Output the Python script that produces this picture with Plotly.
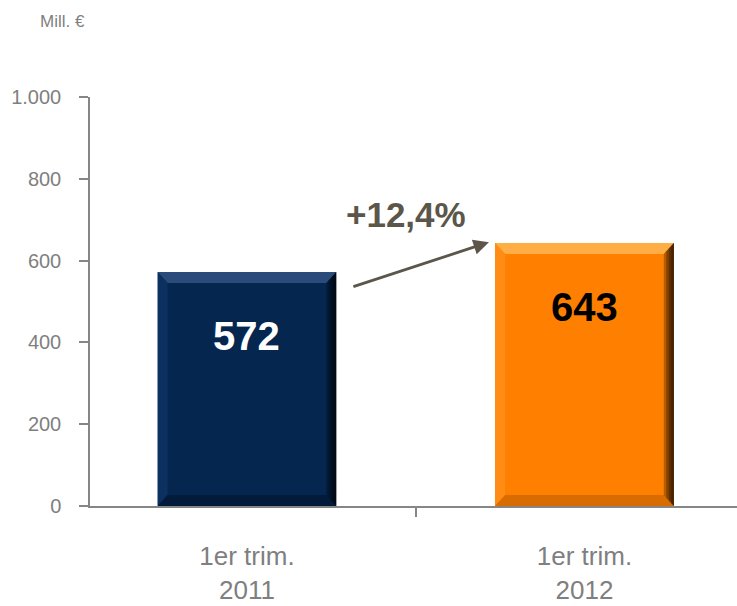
import plotly.graph_objects as go

# Revenue, million euro, first quarter
categories = ["1er trim.<br>2011", "1er trim.<br>2012"]
values = [572, 643]
value_labels = ["572", "643"]
growth_label = "+12,4%"
y_ticks = [0, 200, 400, 600, 800, 1000]

FONT = "Liberation Sans, Arial, sans-serif"
GREY = "#7f7f7f"
AXIS = "#868686"
ARROW = "#5b5649"

face = ["#05264f", "#ff8000"]
top_bevel = ["#2b4c7a", "#ffad45"]
left_bevel = ["#0c305f", "#ff8c15"]
bottom_bevel = ["#021b3b", "#d96c00"]
label_colors = ["#ffffff", "#000000"]

x_pos = [0, 1]
bar_width = 0.53

fig = go.Figure()
fig.add_trace(go.Bar(
    x=x_pos, y=values, width=bar_width,
    marker=dict(color=face, line=dict(width=0)),
    hoverinfo="skip", showlegend=False,
))

# bevelled edges on each bar
dx, dy = 0.030, 27
shapes = []
for i, (xc, v) in enumerate(zip(x_pos, values)):
    x0, x1 = xc - bar_width / 2, xc + bar_width / 2
    y0, y1 = 0, v

    def path(pts):
        return "M " + " L ".join(f"{px},{py}" for px, py in pts) + " Z"

    shapes.append(dict(type="path", xref="x", yref="y", layer="above",
                       path=path([(x0, y1), (x1, y1), (x1 - dx, y1 - dy), (x0 + dx, y1 - dy)]),
                       fillcolor=top_bevel[i], line=dict(width=0)))
    shapes.append(dict(type="path", xref="x", yref="y", layer="above",
                       path=path([(x0, y0), (x0, y1), (x0 + dx, y1 - dy), (x0 + dx, y0 + dy)]),
                       fillcolor=left_bevel[i], line=dict(width=0)))
    shapes.append(dict(type="path", xref="x", yref="y", layer="above",
                       path=path([(x0, y0), (x1, y0), (x1 - dx, y0 + dy), (x0 + dx, y0 + dy)]),
                       fillcolor=bottom_bevel[i], line=dict(width=0)))
    # right edge shading, darker toward the outside
    for k in range(4):
        f = (4 - k) / 4
        shapes.append(dict(type="path", xref="x", yref="y", layer="above",
                           path=path([(x1, y1), (x1, y0), (x1 - dx * f, y0 + dy * f),
                                      (x1 - dx * f, y1 - dy * f)]),
                           fillcolor="black", opacity=0.28, line=dict(width=0)))

annotations = []
for xc, v, t, c in zip(x_pos, values, value_labels, label_colors):
    annotations.append(dict(x=xc, y=v, xref="x", yref="y", yshift=-64, text=f"<b>{t}</b>",
                            showarrow=False, font=dict(family=FONT, size=40, color=c)))

# growth arrow between the bars
annotations.append(dict(x=0.717, y=645, ax=0.311, ay=535, xref="x", yref="y",
                        axref="x", ayref="y", text="", showarrow=True,
                        arrowhead=2, arrowsize=1.1, arrowwidth=2.8, arrowcolor=ARROW))
annotations.append(dict(x=0.47, y=713, xref="x", yref="y", text=f"<b>{growth_label}</b>",
                        showarrow=False, font=dict(family=FONT, size=35, color=ARROW)))
annotations.append(dict(x=-0.08, y=1.212, xref="paper", yref="paper", text="Mill. €",
                        showarrow=False, font=dict(family=FONT, size=17, color=GREY)))

fig.update_layout(
    width=737, height=606,
    margin=dict(l=90, r=0, t=97, b=100),
    paper_bgcolor="white", plot_bgcolor="white",
    separators=",.",
    bargap=0,
    shapes=shapes, annotations=annotations,
    xaxis=dict(
        range=[-0.465, 1.452], tickmode="array", tickvals=x_pos, ticktext=categories,
        ticks="", showgrid=False, zeroline=False,
        showline=True, linecolor=AXIS, linewidth=1.5,
        tickfont=dict(family=FONT, size=26, color=GREY), ticklabelstandoff=26,
        minor=dict(tickmode="array", tickvals=[0.5], ticks="outside", ticklen=9,
                   tickcolor=AXIS, tickwidth=1.5, showgrid=False),
    ),
    yaxis=dict(
        range=[0, 1000], tickmode="array", tickvals=y_ticks, tickformat=",d",
        ticks="outside", ticklen=9, tickcolor=AXIS, tickwidth=1.5,
        showgrid=False, zeroline=False,
        showline=True, linecolor=AXIS, linewidth=1.5,
        tickfont=dict(family=FONT, size=20, color=GREY), ticklabelstandoff=14,
    ),
)

fig.write_html("out.html")
